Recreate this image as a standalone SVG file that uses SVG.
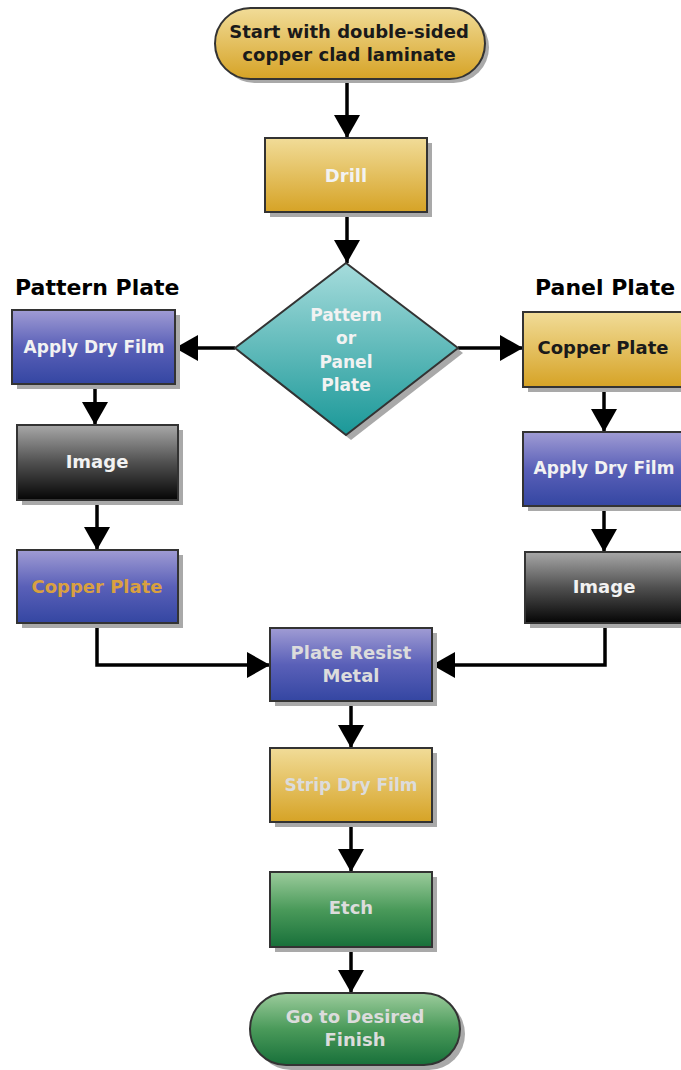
<svg xmlns="http://www.w3.org/2000/svg" width="681" height="1070" viewBox="0 0 681 1070">
<defs>
<linearGradient id="gGold" x1="0" y1="0" x2="0" y2="1"><stop offset="0" stop-color="#f1dc98"/><stop offset="1" stop-color="#d6a326"/></linearGradient>
<linearGradient id="gBlue" x1="0" y1="0" x2="0" y2="1"><stop offset="0" stop-color="#a09cd4"/><stop offset="0.5" stop-color="#5a60b8"/><stop offset="1" stop-color="#3446a2"/></linearGradient>
<linearGradient id="gBlack" x1="0" y1="0" x2="0" y2="1"><stop offset="0" stop-color="#a8a8a8"/><stop offset="0.5" stop-color="#505050"/><stop offset="1" stop-color="#050505"/></linearGradient>
<linearGradient id="gTeal" x1="0" y1="0" x2="0" y2="1"><stop offset="0" stop-color="#a6dcdc"/><stop offset="1" stop-color="#1a9898"/></linearGradient>
<linearGradient id="gGreen" x1="0" y1="0" x2="0" y2="1"><stop offset="0" stop-color="#9ccc9c"/><stop offset="0.5" stop-color="#4a9a5a"/><stop offset="1" stop-color="#18703a"/></linearGradient>
<marker id="ah" markerUnits="userSpaceOnUse" markerWidth="28" markerHeight="28" viewBox="0 0 28 28" refX="23" refY="14" orient="auto"><path d="M0,1 L23,14 L0,27 Z" fill="#000"/></marker>
</defs>
<style>
.box{stroke:#333;stroke-width:2}
.sh{fill:#a9a9a9}
.t{font-family:"DejaVu Sans",Verdana,sans-serif;font-weight:bold;font-size:18px;text-anchor:middle}
.s17{font-size:17px}
.w{fill:#f2f2f2}
.lg{fill:#dcdcdc}
.dk{fill:#1a1a1a}
.or{fill:#d9a040}
.title{font-family:"DejaVu Sans",Verdana,sans-serif;font-weight:bold;font-size:22px;fill:#000}
.c{fill:none;stroke:#000;stroke-width:3.5;marker-end:url(#ah)}
</style>
<rect width="681" height="1070" fill="#fff"/>

<g id="connectors">
<line class="c" x1="347" y1="80" x2="347" y2="138"/>
<line class="c" x1="347" y1="212" x2="347" y2="263"/>
<line class="c" x1="235" y1="348" x2="175" y2="348"/>
<line class="c" x1="458" y1="348" x2="523" y2="348"/>
<line class="c" x1="95" y1="384" x2="95" y2="425"/>
<line class="c" x1="97" y1="500" x2="97" y2="550"/>
<polyline class="c" points="97,623 97,665 270,665"/>
<line class="c" x1="604" y1="387" x2="604" y2="432"/>
<line class="c" x1="604" y1="506" x2="604" y2="552"/>
<polyline class="c" points="605,623 605,665 432,665"/>
<line class="c" x1="351" y1="701" x2="351" y2="748"/>
<line class="c" x1="351" y1="822" x2="351" y2="872"/>
<line class="c" x1="351" y1="947" x2="351" y2="993"/>
</g>

<g id="start">
<rect class="sh" x="219" y="12" width="270" height="71" rx="35.5"/>
<rect class="box" x="215" y="8" width="270" height="71" rx="35.5" fill="url(#gGold)"/>
<text class="t dk" x="349" y="38">Start with double-sided</text>
<text class="t dk" x="349" y="61">copper clad laminate</text>
</g>

<g id="drill">
<rect class="sh" x="270" y="143" width="162" height="74"/>
<rect class="box" x="265" y="138" width="162" height="74" fill="url(#gGold)"/>
<text class="t w" x="346" y="182">Drill</text>
</g>

<g id="decision">
<polygon class="sh" points="351,268 463,353 351,440 240,353"/>
<polygon class="box" points="346,263 458,348 346,435 235,348" fill="url(#gTeal)"/>
<text class="t w s17" x="346" y="321">Pattern</text>
<text class="t w s17" x="346" y="344">or</text>
<text class="t w s17" x="346" y="368">Panel</text>
<text class="t w s17" x="346" y="391">Plate</text>
</g>

<g id="label-pattern"><text class="title" x="15" y="295">Pattern Plate</text></g>
<g id="label-panel"><text class="title" x="535" y="295">Panel Plate</text></g>

<g id="apply-left">
<rect class="sh" x="17" y="315" width="163" height="74"/>
<rect class="box" x="12" y="310" width="163" height="74" fill="url(#gBlue)"/>
<text class="t w s17" x="94" y="353">Apply Dry Film</text>
</g>

<g id="image-left">
<rect class="sh" x="22" y="430" width="161" height="75"/>
<rect class="box" x="17" y="425" width="161" height="75" fill="url(#gBlack)"/>
<text class="t w" x="97" y="468">Image</text>
</g>

<g id="copper-left">
<rect class="sh" x="22" y="555" width="161" height="73"/>
<rect class="box" x="17" y="550" width="161" height="73" fill="url(#gBlue)"/>
<text class="t or" x="97" y="593">Copper Plate</text>
</g>

<g id="copper-right">
<rect class="sh" x="528" y="317" width="160" height="75"/>
<rect class="box" x="523" y="312" width="160" height="75" fill="url(#gGold)"/>
<text class="t dk" x="603" y="354">Copper Plate</text>
</g>

<g id="apply-right">
<rect class="sh" x="528" y="437" width="160" height="74"/>
<rect class="box" x="523" y="432" width="160" height="74" fill="url(#gBlue)"/>
<text class="t w s17" x="604" y="474">Apply Dry Film</text>
</g>

<g id="image-right">
<rect class="sh" x="530" y="557" width="160" height="71"/>
<rect class="box" x="525" y="552" width="160" height="71" fill="url(#gBlack)"/>
<text class="t w" x="604" y="593">Image</text>
</g>

<g id="plate-resist">
<rect class="sh" x="275" y="633" width="162" height="73"/>
<rect class="box" x="270" y="628" width="162" height="73" fill="url(#gBlue)"/>
<text class="t lg" x="351" y="659">Plate Resist</text>
<text class="t lg" x="351" y="682">Metal</text>
</g>

<g id="strip">
<rect class="sh" x="275" y="753" width="162" height="74"/>
<rect class="box" x="270" y="748" width="162" height="74" fill="url(#gGold)"/>
<text class="t lg s17" x="351" y="791">Strip Dry Film</text>
</g>

<g id="etch">
<rect class="sh" x="275" y="877" width="162" height="75"/>
<rect class="box" x="270" y="872" width="162" height="75" fill="url(#gGreen)"/>
<text class="t lg" x="351" y="914">Etch</text>
</g>

<g id="finish">
<rect class="sh" x="255" y="998" width="210" height="72" rx="36"/>
<rect class="box" x="250" y="993" width="210" height="72" rx="36" fill="url(#gGreen)"/>
<text class="t lg" x="355" y="1023">Go to Desired</text>
<text class="t lg" x="355" y="1046">Finish</text>
</g>
</svg>
